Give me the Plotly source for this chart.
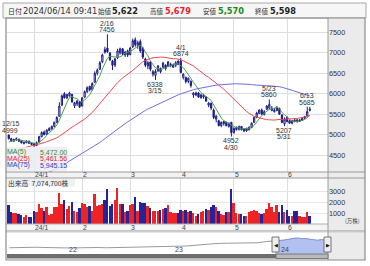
import plotly.graph_objects as go
import pandas as pd

W, H = 370, 266
def fx(x): return x / W
def fy(y): return 1 - y / H

# ---------------- data ----------------
trading_days = {
    "2023-12": [15, 18, 19, 20, 21, 22, 25, 26, 27, 28],
    "2024-01": [4, 5, 9, 10, 11, 12, 15, 16, 17, 18, 19, 22, 23, 24, 25, 26, 29, 30, 31],
    "2024-02": [1, 2, 5, 6, 7, 8, 9, 13, 14, 15, 16, 19, 20, 21, 22, 26, 27, 28, 29],
    "2024-03": [1, 4, 5, 6, 7, 8, 11, 12, 13, 14, 15, 18, 19, 21, 22, 25, 26, 27, 28, 29],
    "2024-04": [1, 2, 3, 4, 5, 8, 9, 10, 11, 12, 15, 16, 17, 18, 19, 22, 23, 24, 25, 26, 30],
    "2024-05": [1, 2, 7, 8, 9, 10, 13, 14, 15, 16, 17, 20, 21, 22, 23, 24, 27, 28, 29, 30, 31],
    "2024-06": [3, 4, 5, 6, 7, 10, 11, 12, 13, 14],
}
dates = [f"{ym}-{d:02d}" for ym, days in trading_days.items() for d in days]

opens = [4990, 4900, 4840, 4870, 4890, 4850, 4780, 4800, 4840, 4790,
         4780, 4730, 4820, 4950, 5060, 5010, 5100, 5140, 5200, 5300,
         5450, 5720, 6000, 5900, 5950, 5980, 5700, 5750, 5800, 5700,
         5920, 6050, 6180, 6100, 6280, 6500, 6600, 6780, 7080, 7120,
         7000, 6800, 6700, 6880, 7000, 7100, 6950, 7050, 6960, 7150,
         7320, 7180, 7280, 7100, 6850, 6680, 6780, 6480, 6450, 6560,
         6620, 6650, 6700, 6680, 6680, 6650, 6700, 6800, 6800, 6400,
         6400, 6300, 6300, 5970, 5970, 6020, 5900, 5920, 5920, 5720,
         5770, 5600, 5380, 5340, 5220, 5270, 5300, 5200, 5300, 5050,
         5120, 5130, 5200, 5140, 5090, 5120, 5180, 5300, 5420, 5520,
         5600, 5490, 5620, 5650, 5590, 5560, 5590, 5640, 5480, 5260,
         5420, 5340, 5280, 5360, 5360, 5320, 5350, 5400, 5460, 5622]
highs = [4999, 4920, 4900, 4930, 4900, 4870, 4830, 4860, 4850, 4800,
         4800, 4830, 4970, 5080, 5100, 5130, 5180, 5220, 5320, 5450,
         5790, 5980, 6040, 6000, 6050, 6000, 5800, 5850, 5820, 5920,
         6080, 6180, 6200, 6280, 6550, 6620, 6800, 6980, 7150, 7456,
         7020, 6830, 6880, 7100, 7130, 7120, 7050, 7080, 7150, 7350,
         7380, 7300, 7330, 7150, 6880, 6800, 6800, 6580, 6600, 6700,
         6640, 6780, 6720, 6800, 6760, 6740, 6800, 6820, 6874, 6500,
         6420, 6400, 6330, 6040, 6050, 6040, 6000, 6000, 5940, 5800,
         5780, 5640, 5480, 5360, 5320, 5340, 5320, 5300, 5310, 5180,
         5200, 5220, 5210, 5160, 5170, 5200, 5300, 5450, 5560, 5620,
         5640, 5600, 5720, 5860, 5700, 5650, 5700, 5660, 5500, 5420,
         5450, 5360, 5360, 5380, 5380, 5380, 5420, 5460, 5685, 5679]
lows = [4880, 4830, 4820, 4850, 4820, 4780, 4760, 4790, 4770, 4740,
        4700, 4720, 4810, 4930, 4980, 5000, 5080, 5120, 5180, 5280,
        5440, 5700, 5880, 5870, 5930, 5780, 5650, 5700, 5650, 5690,
        5900, 6020, 6060, 6080, 6270, 6450, 6580, 6750, 6980, 7000,
        6800, 6580, 6650, 6850, 6960, 6950, 6900, 6900, 6940, 7120,
        7150, 7100, 7000, 6850, 6650, 6600, 6550, 6420, 6338, 6540,
        6500, 6630, 6570, 6650, 6650, 6630, 6650, 6700, 6500, 6350,
        6250, 6260, 6150, 5900, 5940, 5900, 5880, 5880, 5800, 5670,
        5600, 5380, 5300, 5200, 5180, 5220, 5200, 5170, 4952, 5020,
        5100, 5100, 5100, 5060, 5070, 5100, 5160, 5280, 5400, 5500,
        5480, 5470, 5600, 5620, 5570, 5540, 5570, 5480, 5280, 5207,
        5300, 5260, 5250, 5300, 5290, 5310, 5340, 5380, 5450, 5570]
closes = [4900, 4850, 4880, 4900, 4840, 4800, 4810, 4840, 4790, 4760,
          4730, 4800, 4950, 5050, 5000, 5110, 5150, 5200, 5300, 5420,
          5700, 5950, 5900, 5980, 6020, 5800, 5780, 5820, 5680, 5900,
          6050, 6150, 6100, 6250, 6500, 6580, 6760, 6950, 7020, 7030,
          6830, 6700, 6850, 7050, 7100, 6980, 7020, 6950, 7120, 7300,
          7200, 7250, 7050, 6900, 6700, 6760, 6600, 6540, 6550, 6680,
          6540, 6750, 6620, 6780, 6720, 6710, 6760, 6720, 6520, 6480,
          6300, 6380, 6200, 6020, 6020, 5920, 5970, 5960, 5820, 5770,
          5650, 5420, 5450, 5220, 5300, 5320, 5220, 5270, 5050, 5150,
          5170, 5200, 5120, 5090, 5150, 5180, 5280, 5420, 5530, 5600,
          5500, 5560, 5700, 5740, 5640, 5600, 5660, 5500, 5300, 5380,
          5320, 5280, 5340, 5320, 5330, 5360, 5400, 5440, 5562, 5598]
# volume in 万株
volumes = [1800, 1100, 1000, 1000, 900, 850, 650, 800, 650, 700,
           1250, 1100, 1900, 1500, 1250, 1600, 800, 900, 1600, 1600,
           2900, 1900, 2200, 1400, 1700, 2100, 1250, 1150, 1450, 2000,
           1900, 1600, 1700, 1250, 2850, 1700, 1800, 1900, 2200, 3300,
           1700, 1900, 2200, 3400, 1900, 1900, 1100, 1260, 1730, 1890,
           2500, 1260, 2100, 2000, 2000, 1650, 1500, 1260, 1260, 1260,
           1350, 1420, 1480, 1730, 1110, 1050, 1050, 1050, 1350, 1260,
           1350, 1150, 1260, 1050, 790, 950, 1150, 1260, 1420, 1350,
           1570, 1800, 1570, 1260, 950, 850, 1110, 1110, 3300, 1960,
           1050, 950, 950, 790, 790, 1110, 1260, 1350, 1260, 1050,
           950, 1050, 1420, 1960, 1570, 1110, 1730, 1110, 1730, 1110,
           1350, 730, 790, 1180, 1180, 730, 640, 640, 1110, 707]
# closes before 12/15 (needed for the moving averages)
pre_closes = [3200, 3180, 3220, 3250, 3210, 3190, 3160, 3140, 3170, 3200, 3230,
              3210, 3180, 3150, 3120, 3100, 3130, 3160, 3140, 3120, 3150, 3180,
              3150, 3170, 3200, 3180, 3220, 3250, 3230, 3260, 3290, 3270, 3300,
              3320, 3350, 3330, 3370, 3400, 3380, 3420, 3450, 3430, 3470, 3500,
              3700, 3780, 3850, 3900, 3960, 4000, 4050, 4100, 4150, 4200,
              4250, 4300, 4330, 4380, 4420, 4450, 4480, 4520, 4550, 4580,
              4600, 4630, 4660, 4680, 4700, 4720, 4750, 4780, 4820, 4850]
# navigator (long history, monthly)
nav_months = ["2021-06", "2021-07", "2021-08", "2021-09", "2021-10", "2021-11", "2021-12",
              "2022-01", "2022-02", "2022-03", "2022-04", "2022-05", "2022-06",
              "2022-07", "2022-08", "2022-09", "2022-10", "2022-11", "2022-12",
              "2023-01", "2023-02", "2023-03", "2023-04", "2023-05", "2023-06",
              "2023-07", "2023-08", "2023-09", "2023-10", "2023-11", "2023-12"]
nav_values = [1680, 1750, 1680, 1830, 1750, 1680, 1750,
              1620, 1680, 1800, 1750, 1680, 1720,
              1800, 1880, 1770, 1830, 1880, 1940,
              1980, 2200, 2440, 2840, 3060, 3300,
              3400, 3450, 3500, 3550, 4300, 4800]

price_ticks = [4500, 5000, 5500, 6000, 6500, 7000, 7500]
volume_ticks = [1000, 2000, 3000]
month_labels = ["24/1", "2", "3", "4", "5", "6"]
year_labels = ["22", "23", "24"]
year_starts = ["2022-01-01", "2023-01-01", "2024-01-01"]
ma_periods = [5, 25, 75]
ma_colors = ["#4f9f4f", "#ee4a4a", "#6e6ee4"]
ma_text_colors = ["#2e8b2e", "#e02828", "#3a3acc"]
ma_latest = ["5,472.00", "5,461.56", "5,945.15"]
hdr_date = "2024/06/14 09:41"
hdr_items = [("始値", "5,622", "#222222"), ("高値", "5,679", "#e8202a"),
             ("安値", "5,570", "#178a17"), ("終値", "5,598", "#222222")]
volume_total = "出来高  7,074,700株"
marked = [(0, "high"), (39, "high"), (58, "low"), (68, "high"),
          (88, "low"), (103, "high"), (109, "low"), (118, "high")]

# ---------------- derived ----------------
idx = list(range(len(dates)))
starts = [i for i in idx if i == 0 or dates[i][:7] != dates[i - 1][:7]][1:]
s = pd.Series(pre_closes + closes, dtype=float)
ma = {n: s.rolling(n).mean().iloc[len(pre_closes):].tolist() for n in ma_periods}
vol_colors = ["#ee2424" if c >= o else "#23239c" for o, c in zip(opens, closes)]

NAVY = "#1b1b84"
fig = go.Figure()
for n, col in zip(ma_periods, ma_colors):
    fig.add_trace(go.Scatter(x=idx, y=ma[n], mode="lines", line=dict(color=col, width=1),
                             xaxis="x", yaxis="y", hoverinfo="skip"))
fig.add_trace(go.Candlestick(
    x=idx, open=opens, high=highs, low=lows, close=closes,
    increasing=dict(line=dict(color=NAVY, width=1), fillcolor="white"),
    decreasing=dict(line=dict(color=NAVY, width=1), fillcolor=NAVY),
    whiskerwidth=0, xaxis="x", yaxis="y"))
fig.add_trace(go.Bar(x=idx, y=volumes, marker=dict(color=vol_colors, line=dict(width=0)),
                     width=0.72, xaxis="x2", yaxis="y2"))
fig.add_trace(go.Scatter(x=[m + "-15" for m in nav_months] + dates, y=nav_values + closes,
                         mode="lines", line=dict(color="#9a9a9a", width=1),
                         xaxis="x3", yaxis="y3", hoverinfo="skip"))
fig.add_trace(go.Scatter(x=dates, y=closes, mode="lines", fill="tozeroy",
                         fillcolor="#b3c1f2", line=dict(color="#8596e2", width=1),
                         xaxis="x3", yaxis="y3", hoverinfo="skip"))

shapes = []
def rect(x0, y0, x1, y1, fill=None, line=None, lw=1, layer="above"):
    shapes.append(dict(type="rect", xref="paper", yref="paper",
                       x0=fx(x0), x1=fx(x1), y0=fy(y1), y1=fy(y0),
                       fillcolor=fill or "rgba(0,0,0,0)",
                       line=dict(color=line or "rgba(0,0,0,0)", width=lw if line else 0),
                       layer=layer))
def hline(y, x0, x1, color="#9a9a9a", w=1):
    shapes.append(dict(type="line", xref="paper", yref="paper", x0=fx(x0), x1=fx(x1),
                       y0=fy(y), y1=fy(y), line=dict(color=color, width=w), layer="above"))
def vline(x, y0, y1, color="#9a9a9a", w=1):
    shapes.append(dict(type="line", xref="paper", yref="paper", x0=fx(x), x1=fx(x),
                       y0=fy(y0), y1=fy(y1), line=dict(color=color, width=w), layer="above"))

# header
rect(3, 3, 366, 18, fill="#f6f6f6", line="#a8a8a8", layer="below")
# right axis panel
rect(328, 18, 365, 260, fill="#ebebeb", layer="below")
# date strips
rect(7, 172, 328, 178, fill="#f2f2f2", layer="below")
rect(7, 224, 328, 231, fill="#f4f4f4", layer="below")
rect(7, 231, 328, 254, fill="#ffffff", layer="below")
# separators
hline(172, 6, 365); hline(178, 6, 365); hline(224, 6, 328, "#b0b0b0")
hline(231, 6, 365); hline(232, 6, 365, "#d0d0d0")
vline(328, 18, 260)
# MA legend box & volume label box
rect(6, 147, 67, 171, fill="rgba(236,236,244,0.88)")
rect(7, 179, 75, 186.5, fill="rgba(238,238,242,0.9)")
# navigator scrollbar and handles
rect(7, 254, 328, 258.5, fill="#6e6e6e")
rect(276, 254, 328, 258.5, fill="#b9b9b9", line="#6a6a6a", lw=0.8)
rect(272, 237, 279, 252, fill="#eeeeee", line="#555555", lw=0.8)
rect(324, 237, 331, 252, fill="#eeeeee", line="#555555", lw=0.8)
# outer frame
rect(6, 18, 365, 260, line="#8c8c8c", lw=1.2)

ann = []
def text(x, y, t, size=7, color="#333333", family="Liberation Sans", xanchor="left", **kw):
    ann.append(dict(x=fx(x), y=fy(y), xref="paper", yref="paper", text=t, showarrow=False,
                    xanchor=xanchor, yanchor="middle", borderpad=0,
                    font=dict(size=size, color=color, family=family), **kw))

# header text
CJK = "Noto Sans CJK JP"
text(6.5, 10.5, "日付", 7, "#333", CJK)
text(21.5, 10.5, hdr_date, 8.3, "#333", "DejaVu Sans")
hx = [97, 149, 202, 254]
for (lab, val, col), x0 in zip(hdr_items, hx):
    text(x0, 11, lab, 6.5, "#333", CJK)
    text(x0 + 14.5, 10.5, f"<b>{val}</b>", 8.2, col, "DejaVu Sans")

# MA legend
for k, (n, col) in enumerate(zip(ma_periods, ma_text_colors)):
    yy = 152 + 6.6 * k
    text(5.5, yy, f"MA({n})", 7, col)
    text(38.5, yy, ma_latest[k], 7, col)

text(7, 183, volume_total, 6.8, "#333", CJK)
text(344, 221, "(万株)", 5.5, "#444", CJK)

# month labels (both strips)
for i, lab in zip(starts, month_labels):
    ann.append(dict(x=i, xref="x", y=fy(174.8), yref="paper", text=lab, showarrow=False,
                    xanchor="left", yanchor="middle", borderpad=0,
                    font=dict(size=6.8, color="#444", family="Liberation Sans")))
    ann.append(dict(x=i, xref="x2", y=fy(227.5), yref="paper", text=lab, showarrow=False,
                    xanchor="left", yanchor="middle", borderpad=0,
                    font=dict(size=6.8, color="#444", family="Liberation Sans")))
# navigator year labels
for ys, lab in zip(year_starts, year_labels):
    ann.append(dict(x=ys, xref="x3", y=fy(249.3), yref="paper", text=lab, showarrow=False,
                    xanchor="left", yanchor="middle", borderpad=0,
                    font=dict(size=7, color="#444", family="Liberation Sans")))
# handle arrows
text(275.5, 244.5, "◀", 5, "#111", "DejaVu Sans", xanchor="center")
text(327.5, 244.5, "▶", 5, "#111", "DejaVu Sans", xanchor="center")

# high / low markers
for i, kind in marked:
    m, d = int(dates[i][5:7]), int(dates[i][8:10])
    dlab = f"{m}/{d}"
    if kind == "high":
        val, s1, s2 = highs[i], 4.5, 11
    else:
        val, s1, s2 = lows[i], -4.2, -10.6
    xa = "left" if i < 3 else "center"
    xs = -8 if i < 3 else 0
    for t, sh in ((f"{val}", s1), (dlab, s2)):
        ann.append(dict(x=i, y=val, xref="x", yref="y", text=t, showarrow=False,
                        xanchor=xa, yanchor="middle", yshift=sh, xshift=xs, borderpad=0,
                        font=dict(size=7, color="#333", family="Liberation Sans")))

common_x = dict(showticklabels=False, showgrid=True, gridcolor="#dedede", gridwidth=1,
                zeroline=False, showline=False, ticks="", range=[-0.7, 126.2],
                tickvals=starts, fixedrange=True)
fig.update_layout(
    width=W, height=H, margin=dict(l=0, r=0, t=0, b=0),
    paper_bgcolor="white", plot_bgcolor="white", showlegend=False,
    font=dict(family="Liberation Sans", size=7, color="#333"),
    bargap=0,
    xaxis=dict(domain=[fx(7), fx(328)], anchor="y", rangeslider=dict(visible=False), **common_x),
    xaxis2=dict(domain=[fx(7), fx(328)], anchor="y2", matches="x", **common_x),
    xaxis3=dict(domain=[fx(7), fx(328)], anchor="y3", type="date",
                range=["2021-06-07", "2024-06-14"], showticklabels=False,
                showgrid=False, zeroline=False, showline=False, ticks=""),
    yaxis=dict(domain=[fy(172), fy(18)], anchor="x", range=[4084, 7855], side="right",
               tickvals=price_ticks, showgrid=True, gridcolor="#dedede", zeroline=False,
               ticks="", tickfont=dict(size=7.3, color="#333"), fixedrange=True),
    yaxis2=dict(domain=[fy(224), fy(178)], anchor="x2", range=[0, 4300], side="right",
                tickvals=volume_ticks, showgrid=True, gridcolor="#e6e6e6", zeroline=False,
                ticks="", tickfont=dict(size=7.3, color="#333"), fixedrange=True),
    yaxis3=dict(domain=[fy(254), fy(232)], anchor="x3", type="log", range=[2.819, 4.257],
                showticklabels=False, showgrid=False, zeroline=False, ticks=""),
    shapes=shapes, annotations=ann,
)
fig.write_html("out.html")
